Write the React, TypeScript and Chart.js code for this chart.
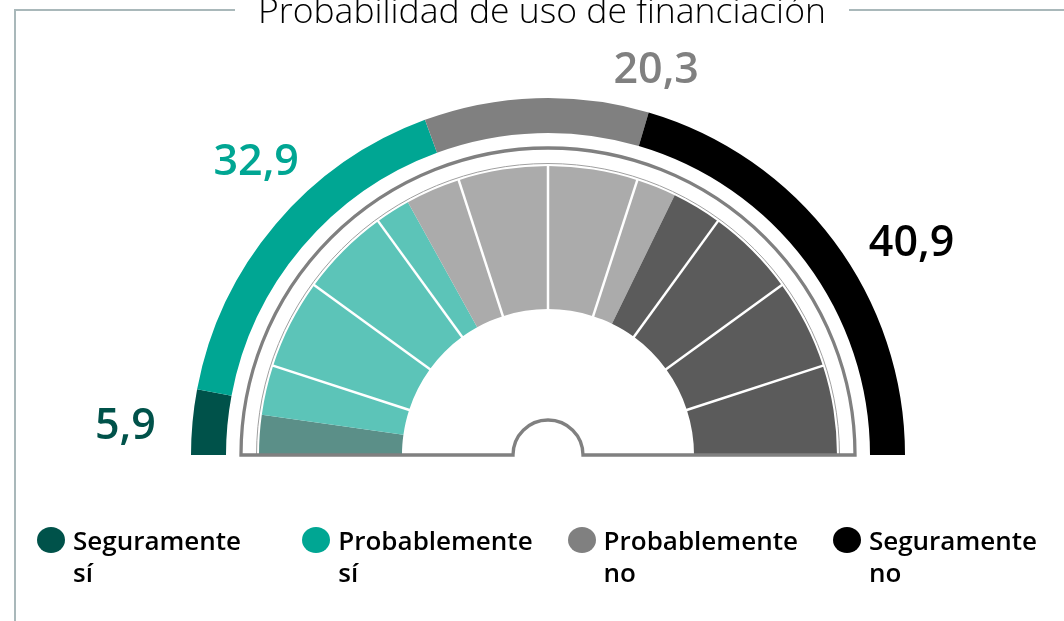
import React, { useEffect, useRef } from "react";
import { Chart, registerables } from "chart.js";

Chart.register(...registerables);

// ---- data ----
const title = "Probabilidad de uso de financiación";
const categories = ["Seguramente sí", "Probablemente sí", "Probablemente no", "Seguramente no"];
const shares = [5.9, 32.9, 20.3, 40.9];
const shareLabels = ["5,9", "32,9", "20,3", "40,9"];
const categoryColors = ["#00524a", "#00a693", "#808080", "#000000"];

// inner decorative dial (degrees of the half circle)
const innerSpans = [8, 10, 18, 18, 7, 11, 18, 18, 8, 10, 18, 18, 18];
const innerColors = [
  "#5b8f88", "#5cc4b8", "#5cc4b8", "#5cc4b8", "#5cc4b8",
  "#ababab", "#ababab", "#ababab", "#ababab",
  "#5b5b5b", "#5b5b5b", "#5b5b5b", "#5b5b5b",
];
const innerDividerAfter = [false, true, true, true, false, true, true, true, false, true, true, true, false];

// ---- styles ----
const FRAME_LINE = "#a9b8ba";
const LABEL_FONT = "600 43px 'Open Sans'";
const LABEL_SIZE = 43;
// [angle from the left (deg), distance in outer radii]
const labelPlacement = [
  [4.3, 1.187],
  [45.3, 1.162],
  [105.6, 1.127],
  [149.5, 1.182],
];

const gaugePlugin = {
  id: "gaugeDecor",
  afterDatasetsDraw(chart: any) {
    const ctx = chart.ctx as CanvasRenderingContext2D;
    const outerMeta = chart.getDatasetMeta(0);
    const innerMeta = chart.getDatasetMeta(2);
    const a0: any = outerMeta.data[0];
    const cx = a0.x;
    const cy = a0.y;
    const R = a0.outerRadius;

    ctx.save();
    // white dividers in inner dial
    ctx.strokeStyle = "#ffffff";
    ctx.lineWidth = 2.5;
    innerMeta.data.forEach((arc: any, i: number) => {
      if (!innerDividerAfter[i]) return;
      const ang = arc.endAngle;
      ctx.beginPath();
      ctx.moveTo(cx + Math.cos(ang) * (arc.innerRadius - 1), cy + Math.sin(ang) * (arc.innerRadius - 1));
      ctx.lineTo(cx + Math.cos(ang) * (arc.outerRadius + 1), cy + Math.sin(ang) * (arc.outerRadius + 1));
      ctx.stroke();
    });

    // thin ring just outside the dial
    ctx.strokeStyle = "#a0a0a0";
    ctx.lineWidth = 1;
    ctx.beginPath();
    ctx.arc(cx, cy, R * 0.8165, Math.PI, 2 * Math.PI);
    ctx.stroke();

    // frame with hub
    const fr = R * 0.86;
    const hr = R * 0.098;
    ctx.strokeStyle = "#808080";
    ctx.lineWidth = 3.3;
    ctx.lineJoin = "miter";
    ctx.beginPath();
    ctx.moveTo(cx - fr, cy);
    ctx.arc(cx, cy, fr, Math.PI, 2 * Math.PI);
    ctx.lineTo(cx + hr, cy);
    ctx.arc(cx, cy, hr, 0, Math.PI, true);
    ctx.closePath();
    ctx.stroke();

    // value labels
    ctx.font = LABEL_FONT;
    ctx.textAlign = "center";
    ctx.textBaseline = "alphabetic";
    shareLabels.forEach((txt, i) => {
      const [deg, rf] = labelPlacement[i];
      const a = Math.PI + (deg * Math.PI) / 180;
      const x = cx + Math.cos(a) * rf * R;
      const y = cy + Math.sin(a) * rf * R;
      ctx.fillStyle = categoryColors[i];
      ctx.fillText(txt, x, y + LABEL_SIZE * 0.357);
    });
    ctx.restore();
  },
};

export default function App() {
  const canvasRef = useRef<HTMLCanvasElement | null>(null);

  useEffect(() => {
    if (!canvasRef.current) return;
    const chart = new Chart(canvasRef.current, {
      type: "doughnut",
      data: {
        labels: categories,
        datasets: [
          {
            data: shares,
            backgroundColor: categoryColors,
            weight: 35,
            borderWidth: 0,
            hoverBorderWidth: 0,
            hoverOffset: 0,
          } as any,
          {
            data: [1],
            backgroundColor: "rgba(0,0,0,0)",
            weight: 33,
            borderWidth: 0,
            hoverBorderWidth: 0,
            hoverOffset: 0,
          } as any,
          {
            data: innerSpans,
            backgroundColor: innerColors,
            weight: 143,
            borderWidth: 0,
            hoverBorderWidth: 0,
            hoverOffset: 0,
          } as any,
        ],
      },
      options: {
        responsive: false,
        animation: false,
        events: [],
        rotation: -90,
        circumference: 180,
        cutout: "40.9%",
        layout: { padding: { left: 191, right: 159, top: 98, bottom: 166 } },
        plugins: {
          legend: { display: false },
          tooltip: { enabled: false },
        },
      } as any,
      plugins: [gaugePlugin],
    });
    return () => chart.destroy();
  }, []);

  return (
    <div
      style={{
        position: "absolute",
        left: 0,
        top: 0,
        width: 1064,
        height: 621,
        overflow: "hidden",
        background: "#ffffff",
        fontFamily: "'Open Sans', sans-serif",
      }}
    >
      <canvas
        ref={canvasRef}
        width={1064}
        height={621}
        style={{ position: "absolute", left: 0, top: 0, width: 1064, height: 621, display: "block" }}
      />
      {/* fieldset-like frame */}
      <div style={{ position: "absolute", left: 14, top: 9, width: 2, height: 700, background: FRAME_LINE }} />
      <div
        style={{
          position: "absolute",
          left: 14,
          top: 0,
          width: 1056,
          display: "flex",
          alignItems: "flex-start",
        }}
      >
        <div style={{ flex: 1, height: 2, marginTop: 9, background: FRAME_LINE }} />
        <div
          style={{
            padding: "0 23px",
            fontSize: 35.5,
            fontWeight: 300,
            lineHeight: "18px",
            whiteSpace: "nowrap",
            color: "#000",
          }}
        >
          {title}
        </div>
        <div style={{ flex: 1, height: 2, marginTop: 9, background: FRAME_LINE }} />
      </div>
      {/* legend */}
      {categories.map((c, i) => {
        const words = c.split(" ");
        return (
          <div key={c} style={{ position: "absolute", left: 37 + i * 265.3, top: 524, width: 260, height: 70 }}>
            <div
              style={{
                position: "absolute",
                left: 0,
                top: 3,
                width: 28,
                height: 26,
                borderRadius: "50%",
                background: categoryColors[i],
              }}
            />
            <div
              style={{
                position: "absolute",
                left: 36,
                top: 0,
                fontSize: 26,
                fontWeight: 600,
                lineHeight: "32px",
                color: "#000",
                whiteSpace: "nowrap",
              }}
            >
              {words[0]}
              <br />
              {words.slice(1).join(" ")}
            </div>
          </div>
        );
      })}
    </div>
  );
}
